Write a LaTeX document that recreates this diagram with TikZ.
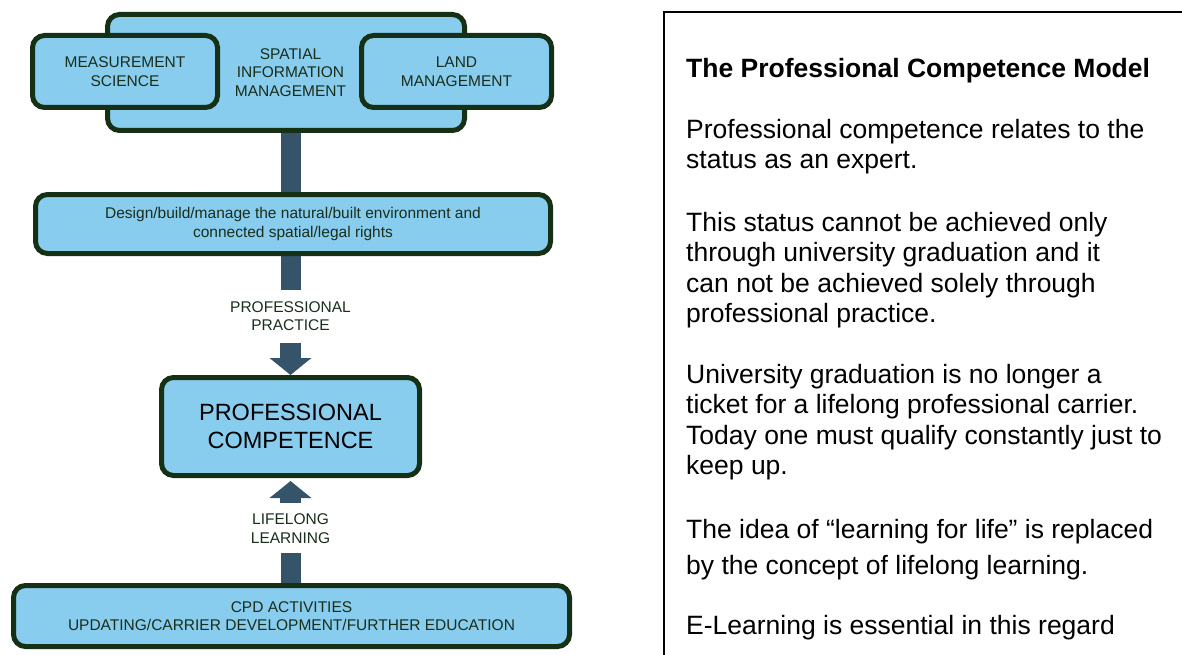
\documentclass[tikz,border=0pt]{standalone}
\usepackage{fontspec}
\setmainfont{Liberation Sans}
\usetikzlibrary{arrows.meta,backgrounds}
\definecolor{boxfill}{HTML}{88CCEE}
\definecolor{boxline}{HTML}{153015}
\definecolor{barcol}{HTML}{35546A}
\definecolor{lbltext}{HTML}{1A2E1C}
\begin{document}
\begin{tikzpicture}[x=1pt,y=-1pt,
  bluebox/.style={draw=boxline,line width=5pt,fill=boxfill,rounded corners=12pt,
    inner sep=0pt,align=center,text=lbltext,font=\fontsize{15.5}{18.5}\selectfont},
  lbl/.style={inner sep=0pt,align=center,text=lbltext,font=\fontsize{15.5}{18.5}\selectfont},
  bar/.style={draw=barcol,line width=20pt},
  fatarrow/.style={draw=barcol,line width=21pt,-{Triangle[length=17pt,width=41pt]},fill=barcol},
  para/.style={anchor=base west,inner sep=0pt,align=left,text=black,font=\fontsize{26.5}{30.5}\selectfont}]
\useasboundingbox (0,0) rectangle (1182,655);
% top group
\node[bluebox,minimum width=357pt,minimum height=116pt] (spatial) at (286,72.5) {};
\node[lbl] (spatialtxt) at (290.5,72.5) {SPATIAL\\INFORMATION\\MANAGEMENT};
\node[bluebox,minimum width=185pt,minimum height=72pt] (meas) at (125,71.5) {MEASUREMENT\\SCIENCE};
\node[bluebox,minimum width=190pt,minimum height=72pt] (land) at (456.5,71.5) {LAND\\MANAGEMENT};
% design
\node[bluebox,minimum width=515pt,minimum height=59pt] (design) at (293,224) {Design/build/manage the natural/built environment and\\connected spatial/legal rights};
% competence
\node[bluebox,minimum width=258pt,minimum height=98pt,text=black,
  font=\fontsize{23.5}{28}\selectfont] (comp) at (290.5,426.5) {PROFESSIONAL\\COMPETENCE};
% cpd
\node[bluebox,minimum width=556pt,minimum height=61pt] (cpd) at (291.5,616) {CPD ACTIVITIES\\UPDATING/CARRIER DEVELOPMENT/FURTHER EDUCATION};
% labels
\node[lbl] (pp) at (290.5,316) {PROFESSIONAL\\PRACTICE};
\node[lbl] (ll) at (290.5,528.5) {LIFELONG\\LEARNING};
% coordinates
\coordinate (b2end) at (290.5,290);
\coordinate (dtop) at (290.5,343);
\coordinate (ubot) at (290.5,503);
\coordinate (b3top) at (290.5,553);
\begin{scope}[on background layer]
\draw[bar] (spatial.south -| comp.north) -- (design.north -| comp.north);
\draw[bar] (design.south -| comp.north) -- (b2end);
\draw[bar] (b3top) -- (cpd.north -| comp.north);
\end{scope}
\draw[fatarrow] (dtop) -- (comp.north);
\draw[fatarrow,shorten >=3pt] (ubot) -- (comp.south);
% right panel
\coordinate (rtr) at (1182,12);
\coordinate (rtl) at (664,12);
\coordinate (rbl) at (664,655);
\draw[line width=2pt,black] (rtr) -- (rtl) -- (rbl);
\node[para,font=\fontsize{26.5}{30.5}\selectfont\bfseries] (title) at (686,77.5) {The Professional Competence Model};
\node[para] (p1) at (686,168.5) {Professional competence relates to the\\status as an expert.};
\node[para] (p2) at (686,322.5) {This status cannot be achieved only\\through university graduation and it\\can not be achieved solely through\\professional practice.};
\node[para] (p3) at (686,474.5) {University graduation is no longer a\\ticket for a lifelong professional carrier.\\Today one must qualify constantly just to\\keep up.};
\node[para] (p4) at (686,574) {The idea of “learning for life” is replaced\\[5.5pt]by the concept of lifelong learning.};
\node[para] (p5) at (686,634) {E-Learning is essential in this regard};
\end{tikzpicture}
\end{document}
